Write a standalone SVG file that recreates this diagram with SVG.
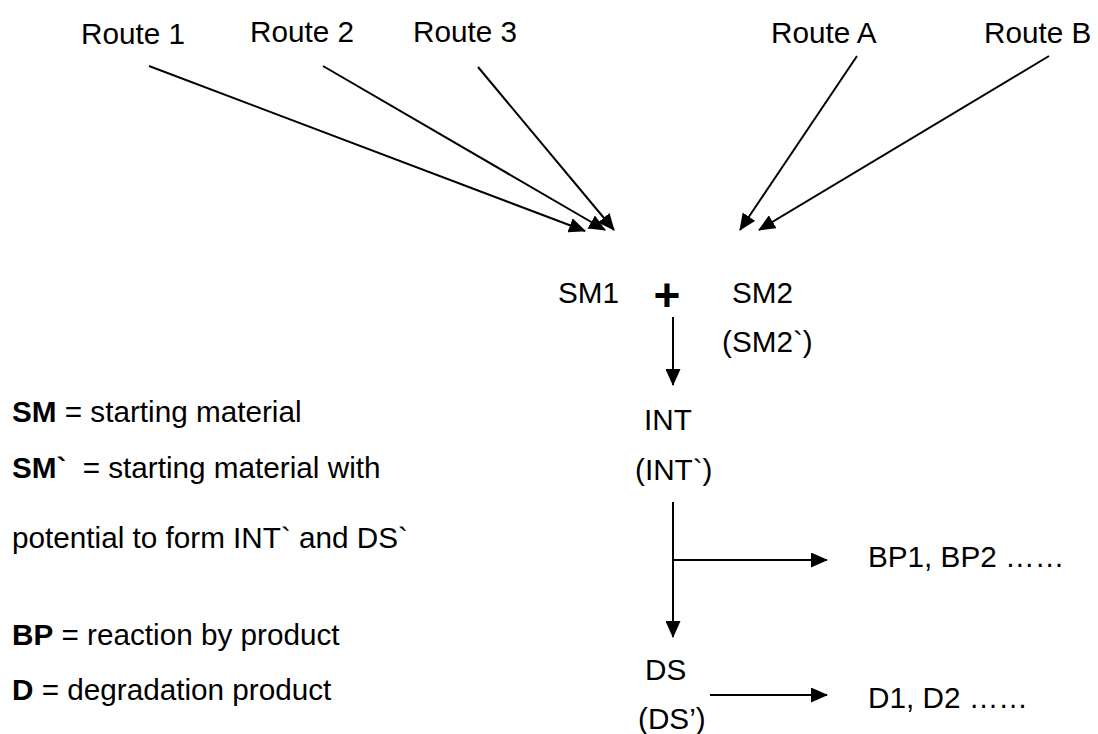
<svg xmlns="http://www.w3.org/2000/svg" width="1098" height="734" viewBox="0 0 1098 734">
  <style>
    text { font-family: "Liberation Sans", Arial, sans-serif; font-size: 29.7px; fill: #000; }
    .b { font-weight: bold; }
    .plus { font-size: 46px; font-weight: bold; }
    .conn line { stroke: #000; stroke-width: 2; fill: none; marker-end: url(#arrow); }
  </style>
  <defs>
    <marker id="arrow" markerUnits="userSpaceOnUse" markerWidth="17" markerHeight="15" refX="16" refY="7.5" orient="auto">
      <path d="M0,0 L17,7.5 L0,15 Z" fill="#000"/>
    </marker>
  </defs>
  <rect width="1098" height="734" fill="#fff"/>

  <!-- route labels -->
  <g id="route1"><text x="81" y="44">Route 1</text></g>
  <g id="route2"><text x="250" y="42">Route 2</text></g>
  <g id="route3"><text x="413" y="42">Route 3</text></g>
  <g id="routeA"><text x="771" y="43">Route A</text></g>
  <g id="routeB"><text x="984" y="43">Route B</text></g>

  <!-- reaction species -->
  <g id="sm1"><text x="558" y="303">SM1</text></g>
  <g id="plus"><text class="plus" x="667" y="311" text-anchor="middle">+</text></g>
  <g id="sm2"><text x="732" y="303">SM2</text><text x="722" y="352">(SM2`)</text></g>
  <g id="int"><text x="644" y="430">INT</text><text x="635" y="480">(INT`)</text></g>
  <g id="bp"><text x="868" y="567">BP1, BP2 ……</text></g>
  <g id="ds"><text x="645" y="680">DS</text><text x="638" y="729">(DS’)</text></g>
  <g id="d"><text x="868" y="708">D1, D2 ……</text></g>

  <!-- legend -->
  <g id="legend">
    <text x="12" y="422"><tspan class="b">SM</tspan> = starting material</text>
    <text x="12" y="478"><tspan class="b">SM`</tspan><tspan dx="8"> = starting material with</tspan></text>
    <text x="12" y="548">potential to form INT` and DS`</text>
    <text x="12" y="645"><tspan class="b">BP</tspan> = reaction by product</text>
    <text x="12" y="700"><tspan class="b">D</tspan> = degradation product</text>
  </g>

  <!-- connectors -->
  <g id="connectors" class="conn">
    <line x1="149" y1="66" x2="585" y2="231"/>
    <line x1="323" y1="66" x2="605" y2="230"/>
    <line x1="478" y1="67" x2="614" y2="230"/>
    <line x1="857" y1="56" x2="740" y2="230"/>
    <line x1="1049" y1="56" x2="759" y2="230"/>
    <line x1="673" y1="317" x2="673" y2="385"/>
    <line x1="673" y1="502" x2="673" y2="637"/>
    <line x1="673" y1="560" x2="827" y2="560"/>
    <line x1="710" y1="695" x2="827" y2="695"/>
  </g>
</svg>
